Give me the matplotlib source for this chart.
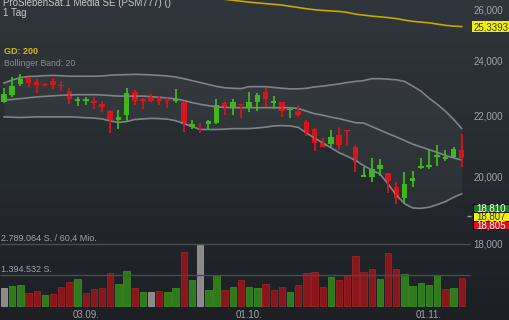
import numpy as np
import matplotlib
matplotlib.use('Agg')
import matplotlib.pyplot as plt
import matplotlib.transforms as mtransforms
from matplotlib.colors import LinearSegmentedColormap
from matplotlib.patches import Rectangle

plt.rcParams['font.family'] = ['Liberation Sans', 'DejaVu Sans']

W, H = 510, 320

# daily candles (EUR)
opens = [22.50, 22.76, 23.16, 23.36, 23.24, 23.15, 23.27, 23.12, 22.90, 22.56,
         22.55, 22.53, 22.44, 22.18, 21.88, 22.07, 22.88, 22.60, 22.66, 22.66,
         22.58, 22.56, 22.52, 21.65, 21.76, 21.73, 21.79, 22.46, 22.31, 22.44,
         22.32, 22.52, 22.88, 22.46, 22.50, 22.23, 22.20, 21.80, 21.56, 21.10,
         21.07, 21.37, 21.54, 20.99, 20.02, 20.00, 20.26, 20.13, 19.71, 19.37,
         19.88, 20.31, 20.34, 20.64, 20.57, 20.64, 20.86]
highs = [23.00, 23.40, 23.52, 23.38, 23.33, 23.20, 23.36, 23.28, 23.00, 22.68,
         22.68, 22.68, 22.55, 22.23, 22.23, 23.02, 22.94, 22.64, 22.80, 22.71,
         22.64, 22.97, 22.56, 21.88, 21.78, 21.90, 22.60, 22.51, 22.63, 22.45,
         22.88, 22.82, 23.02, 22.72, 22.52, 22.32, 22.40, 21.90, 21.60, 21.26,
         21.54, 21.63, 21.55, 21.03, 20.34, 20.60, 20.57, 20.15, 19.86, 20.18,
         20.20, 20.62, 20.92, 21.04, 20.88, 20.99, 21.40]
lows = [22.46, 22.70, 23.09, 23.06, 22.84, 23.08, 22.98, 22.91, 22.43, 22.37,
        22.40, 22.26, 22.17, 21.43, 21.56, 21.85, 22.40, 22.25, 22.50, 22.39,
        22.29, 22.46, 21.48, 21.59, 21.43, 21.54, 21.74, 22.06, 22.06, 21.96,
        22.17, 22.20, 22.34, 22.26, 21.98, 21.96, 22.00, 21.35, 20.85, 20.97,
        20.94, 20.88, 21.01, 20.18, 20.00, 19.84, 20.05, 19.50, 19.19, 19.22,
        19.69, 20.26, 20.26, 20.37, 20.52, 20.61, 20.34]
closes = [22.79, 23.09, 23.33, 23.20, 23.13, 23.12, 23.12, 23.08, 22.60, 22.63,
          22.63, 22.46, 22.32, 21.90, 22.00, 22.82, 22.56, 22.56, 22.55, 22.55,
          22.55, 22.60, 21.73, 21.73, 21.73, 21.85, 22.39, 22.34, 22.52, 22.40,
          22.52, 22.76, 22.60, 22.56, 22.20, 22.26, 22.05, 21.45, 21.12, 20.99,
          21.32, 21.04, 21.50, 20.50, 20.07, 20.25, 20.39, 19.89, 19.37, 19.79,
          19.97, 20.36, 20.39, 20.71, 20.64, 20.90, 20.61]

# Bollinger band (20)
bb_upper = [23.19, 23.30, 23.39, 23.43, 23.44, 23.46, 23.47, 23.46, 23.44, 23.44,
            23.44, 23.44, 23.45, 23.48, 23.49, 23.50, 23.51, 23.50, 23.49, 23.47,
            23.45, 23.41, 23.35, 23.28, 23.21, 23.14, 23.07, 23.02, 23.00, 22.99,
            23.06, 23.06, 23.06, 23.03, 23.00, 22.98, 22.98, 23.00, 23.05, 23.08,
            23.12, 23.16, 23.21, 23.25, 23.28, 23.35, 23.35, 23.33, 23.31, 23.25,
            23.08, 22.90, 22.65, 22.43, 22.19, 21.91, 21.59]
bb_mid = [22.58, 22.60, 22.63, 22.66, 22.69, 22.71, 22.73, 22.75, 22.76, 22.77,
          22.77, 22.77, 22.76, 22.74, 22.72, 22.72, 22.72, 22.72, 22.70, 22.68,
          22.65, 22.62, 22.56, 22.49, 22.43, 22.38, 22.34, 22.32, 22.31, 22.31,
          22.31, 22.31, 22.31, 22.31, 22.31, 22.31, 22.28, 22.19, 22.10, 22.05,
          21.98, 21.93, 21.86, 21.79, 21.78, 21.66, 21.54, 21.42, 21.31, 21.19,
          21.07, 20.98, 20.89, 20.80, 20.70, 20.62, 20.55]
bb_lower = [21.99, 21.98, 21.97, 21.98, 21.99, 21.99, 21.99, 21.99, 21.99, 21.98,
            21.96, 21.95, 21.92, 21.85, 21.80, 21.83, 21.90, 21.92, 21.94, 21.93,
            21.91, 21.86, 21.76, 21.66, 21.56, 21.56, 21.56, 21.57, 21.59, 21.59,
            21.59, 21.61, 21.64, 21.68, 21.69, 21.68, 21.63, 21.44, 21.27, 21.11,
            20.95, 20.79, 20.67, 20.54, 20.37, 20.23, 20.10, 19.79, 19.45, 19.19,
            19.06, 19.05, 19.08, 19.16, 19.25, 19.38, 19.49]

# 200-day average
gd200 = [27.52, 27.49, 27.45, 27.42, 27.37, 27.33, 27.31, 27.26, 27.22, 27.19,
         27.14, 27.10, 27.07, 27.02, 26.98, 26.95, 26.90, 26.86, 26.83, 26.78,
         26.74, 26.71, 26.66, 26.62, 26.57, 26.53, 26.49, 26.45, 26.41, 26.37,
         26.33, 26.30, 26.27, 26.24, 26.21, 26.16, 26.11, 26.06, 26.02, 25.99,
         25.97, 25.95, 25.91, 25.84, 25.80, 25.76, 25.73, 25.70, 25.66, 25.60,
         25.55, 25.52, 25.49, 25.44, 25.39, 25.36, 25.34]

# volume (shares) and direction
volumes = [823000, 900000, 931000, 598000, 661000, 481000, 540000, 841000, 1093000, 1228000,
           598000, 765000, 810000, 1498000, 976000, 1574000, 810000, 643000, 643000, 688000,
           616000, 810000, 2443000, 1156000, 2789064, 733000, 1395000, 706000, 868000, 1183000,
           855000, 810000, 1003000, 706000, 855000, 616000, 945000, 1485000, 1543000, 841000,
           1291000, 1170000, 1363000, 2263000, 1543000, 1664000, 1215000, 2371000, 1651000, 1440000,
           913000, 1021000, 931000, 1381000, 751000, 796000, 1246000]
vol_dir = ['f', 'u', 'u', 'd', 'd', 'u', 'd', 'd', 'd', 'u',
           'd', 'd', 'd', 'd', 'u', 'u', 'd', 'u', 'f', 'd',
           'u', 'u', 'd', 'u', 'f', 'u', 'u', 'd', 'u', 'd',
           'u', 'u', 'd', 'd', 'd', 'u', 'd', 'd', 'd', 'd',
           'u', 'd', 'd', 'd', 'd', 'd', 'u', 'd', 'd', 'u',
           'u', 'u', 'u', 'u', 'd', 'u', 'd']

date_labels = ['03.09.', '01.10.', '01.11.']
date_pos = [10, 30, 52]

price_ticks = [26, 24, 22, 20, 18]
price_tick_labels = ['26,000', '24,000', '22,000', '20,000', '18,000']
gd_last = 25.3393
gd_last_label = '25,3393'
quote_labels = ['18,810', '18,807', '18,805']
quote_price = 18.807

vol_max = 2789064
vol_half = 1394532

n = len(closes)
x = np.arange(n)
step = 8.173  # px per bar
x0 = 4.0

fig = plt.figure(figsize=(W / 100, H / 100), dpi=100)

# background gradient
bg = fig.add_axes([0, 0, 1, 1])
bg.axis('off')
cmap = LinearSegmentedColormap.from_list('bg', ['#30363b', '#1c2025'])
bg.imshow(np.linspace(0, 1, 256).reshape(-1, 1), aspect='auto', cmap=cmap, extent=[0, 1, 0, 1])
bg.set_xlim(0, 1)
bg.set_ylim(0, 1)

ax = fig.add_axes([0, 0, 1, 1])
ax.patch.set_alpha(0)
ax.set_yscale('log')
ax.set_xlim(-x0 / step, (W - x0) / step)
ax.set_ylim(15.986, 26.42)
ax.axis('off')

# bollinger
ax.fill_between(x, bb_lower, bb_upper, color='white', alpha=0.045, lw=0)
for band in (bb_upper, bb_mid, bb_lower):
    ax.plot(x, band, color='#7f8387', lw=1.2)

ax.plot(x, gd200, color='#c9a800', lw=1.2)

# candles
for i in range(n):
    o, h, l, c = opens[i], highs[i], lows[i], closes[i]
    col = '#40b81c' if c >= o else '#d8151a'
    ax.vlines(i, l, h, color=col, lw=1.3)
    ax.bar(i, max(abs(c - o), 0.03), bottom=min(o, c), width=0.68, color=col, lw=0)

# volume axes
axv = fig.add_axes([0, 0, 1, 1], sharex=ax)
axv.patch.set_alpha(0)
axv.set_ylim(-629789, 13765380)
axv.axis('off')
vcols = {'u': ('#2f7b1b', '#3a8a24'), 'd': ('#8a1619', '#9a2226'), 'f': ('#8a8a8a', '#9a9a9a')}
for i in range(n):
    fc, ec = vcols[vol_dir[i]]
    axv.bar(i, volumes[i], width=0.78, color=fc, edgecolor=ec, lw=0.6)
axv.hlines([vol_max, vol_half], -x0 / step, (470 - x0) / step, color='#474c51', lw=1)


def fpx(px, py):
    return px / W, 1 - py / H


def price_px(p):
    # pixel row (from top) of a price on the main axes
    return H - ax.transData.transform((0, p))[1]


def box(cy, label, fc, tc, left, right, h, ec='none'):
    fig.add_artist(Rectangle((left / W, 1 - (cy + h / 2) / H), (right - left) / W, h / H,
                             transform=fig.transFigure, facecolor=fc, edgecolor=ec, lw=0.7))
    fig.text(*fpx((left + right) / 2, cy + 3.4), label, color=tc, fontsize=7,
             ha='center', va='baseline')


txt = '#c8c8c8'
grey = '#a0a4a8'
fig.text(*fpx(3, 6.5), 'ProSiebenSat.1 Media SE (PSM777) ()', color=txt, fontsize=7, va='baseline')
fig.text(*fpx(3, 16), '1 Tag', color=txt, fontsize=7, va='baseline')
fig.text(*fpx(4, 51.7), 'GD: 200', color='#d8bc00', fontsize=6.5, fontweight='bold', va='center')
fig.text(*fpx(4, 63.5), 'Bollinger Band: 20', color='#8a8c8e', fontsize=6.2, va='center')

fig.text(*fpx(1, 238.5), '2.789.064 S. / 60,4 Mio.', color=grey, fontsize=6.5, va='center')
fig.text(*fpx(1, 270), '1.394.532 S.', color=grey, fontsize=6.5, va='center')

ytr = ax.get_yaxis_transform()
for p, lab in zip(price_ticks, price_tick_labels):
    ax.text(473.5 / W, p, lab, transform=ytr, color=grey, fontsize=7, va='center', ha='left')

box(price_px(gd_last), gd_last_label, '#f2f200', '#3a3a10', 472.3, 510, 11.5)

cy = price_px(quote_price)
box(cy - 8.6, quote_labels[0], '#1b7d1b', 'white', 473.3, 509.3, 8.2, ec='#0c0c0c')
box(cy, quote_labels[1], '#f2f200', '#303030', 473.3, 509.3, 8.2, ec='#0c0c0c')
box(cy + 8.6, quote_labels[2], '#e0101c', 'white', 473.3, 509.3, 8.2, ec='#0c0c0c')
ax.hlines(quote_price, (467 - x0) / step, (471 - x0) / step, color='#9a9a9a', lw=1)

dtr = mtransforms.blended_transform_factory(ax.transData, fig.transFigure)
for p, lab in zip(date_pos, date_labels):
    ax.text(p, 1 - 314.5 / H, lab, transform=dtr, color=grey, fontsize=7, va='center', ha='center')

fig.savefig('out.png', dpi=100)
